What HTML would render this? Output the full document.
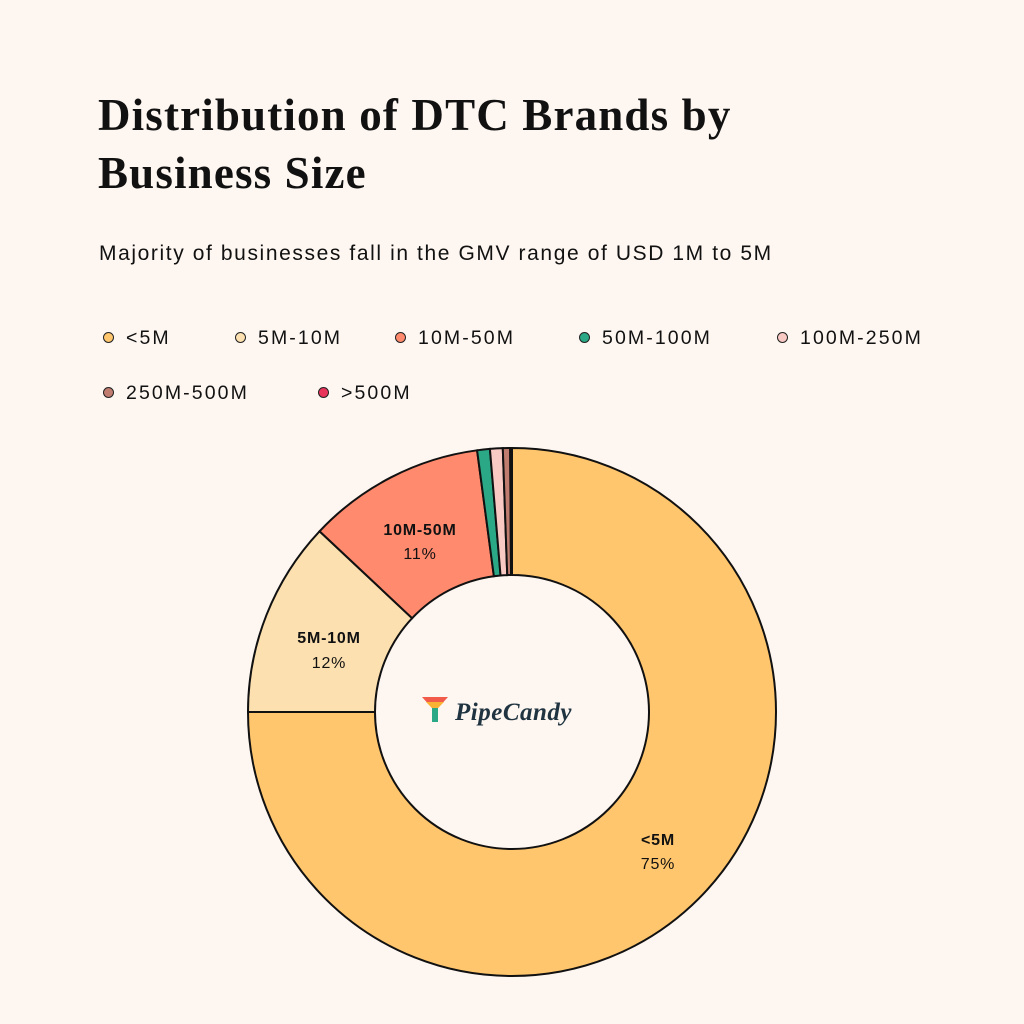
<!DOCTYPE html>
<html><head><meta charset="utf-8"><style>
html,body{margin:0;padding:0;background:#fdf6f1;}
body{width:1024px;height:1024px;overflow:hidden;position:relative;font-family:"Liberation Sans",sans-serif;color:#111;}
.t{position:absolute;left:98px;top:86px;font-family:"Liberation Serif",serif;font-weight:bold;font-size:45px;line-height:58px;letter-spacing:1.15px;}
.s{position:absolute;left:99px;top:242px;font-size:21px;letter-spacing:1.6px;}
.lg{position:absolute;font-size:19.5px;letter-spacing:2.1px;}
.lg i{position:absolute;left:-23px;top:5px;width:11px;height:11px;border-radius:50%;border:1.5px solid #222;box-sizing:border-box;}
</style></head><body>
<div class="t">Distribution of DTC Brands by<br>Business Size</div>
<div class="s">Majority of businesses fall in the GMV range of USD 1M to 5M</div>
<div class="lg" style="left:126px;top:327px"><i style="background:#ffc66d"></i>&lt;5M</div>
<div class="lg" style="left:258px;top:327px"><i style="background:#fde0b0"></i>5M-10M</div>
<div class="lg" style="left:418px;top:327px"><i style="background:#ff8a6e"></i>10M-50M</div>
<div class="lg" style="left:602px;top:327px"><i style="background:#2ba886"></i>50M-100M</div>
<div class="lg" style="left:800px;top:327px"><i style="background:#f9c9c3"></i>100M-250M</div>
<div class="lg" style="left:126px;top:382px"><i style="background:#c07c6e"></i>250M-500M</div>
<div class="lg" style="left:341px;top:382px"><i style="background:#e8335a"></i>&gt;500M</div>
<svg id="c" width="1024" height="1024" style="position:absolute;left:0;top:0"></svg>
<script>
var cx=512,cy=712,R=264,r=137;
var s=[[0,270,'#ffc66d'],[270,313.2,'#fde0b0'],[313.2,352.4,'#ff8a6e'],[352.4,355.2,'#2ba886'],[355.2,358,'#f9c9c3'],[358,359.6,'#c07c6e'],[359.6,360,'#e8335a']];
function p(a,rr){a=(a-90)*Math.PI/180;return (cx+rr*Math.cos(a)).toFixed(2)+' '+(cy+rr*Math.sin(a)).toFixed(2);}
var h='';
s.forEach(function(x){var l=(x[1]-x[0])>180?1:0;
h+='<path d="M'+p(x[0],R)+' A'+R+' '+R+' 0 '+l+' 1 '+p(x[1],R)+' L'+p(x[1],r)+' A'+r+' '+r+' 0 '+l+' 0 '+p(x[0],r)+' Z" fill="'+x[2]+'" stroke="#111" stroke-width="2"/>';});
h+='<g font-family="Liberation Sans,sans-serif" font-size="16" text-anchor="middle" fill="#111" letter-spacing="0.8">';
h+='<text x="658" y="845" font-weight="bold">&lt;5M</text><text x="658" y="869">75%</text>';
h+='<text x="329" y="643" font-weight="bold">5M-10M</text><text x="329" y="668">12%</text>';
h+='<text x="420" y="535" font-weight="bold">10M-50M</text><text x="420" y="559">11%</text></g>';
h+='<polygon points="422,697 448,697 438,708 432,708" fill="#f25a4a"/><polygon points="426,702 444,702 438,708 432,708" fill="#f9b233"/><rect x="432" y="708" width="6" height="14" fill="#2ba886"/>';
h+='<text x="455" y="720" font-family="Liberation Serif,serif" font-style="italic" font-weight="bold" font-size="25" fill="#1f3340" letter-spacing="0.5">PipeCandy</text>';
document.getElementById('c').innerHTML=h;
</script>
</body></html>
